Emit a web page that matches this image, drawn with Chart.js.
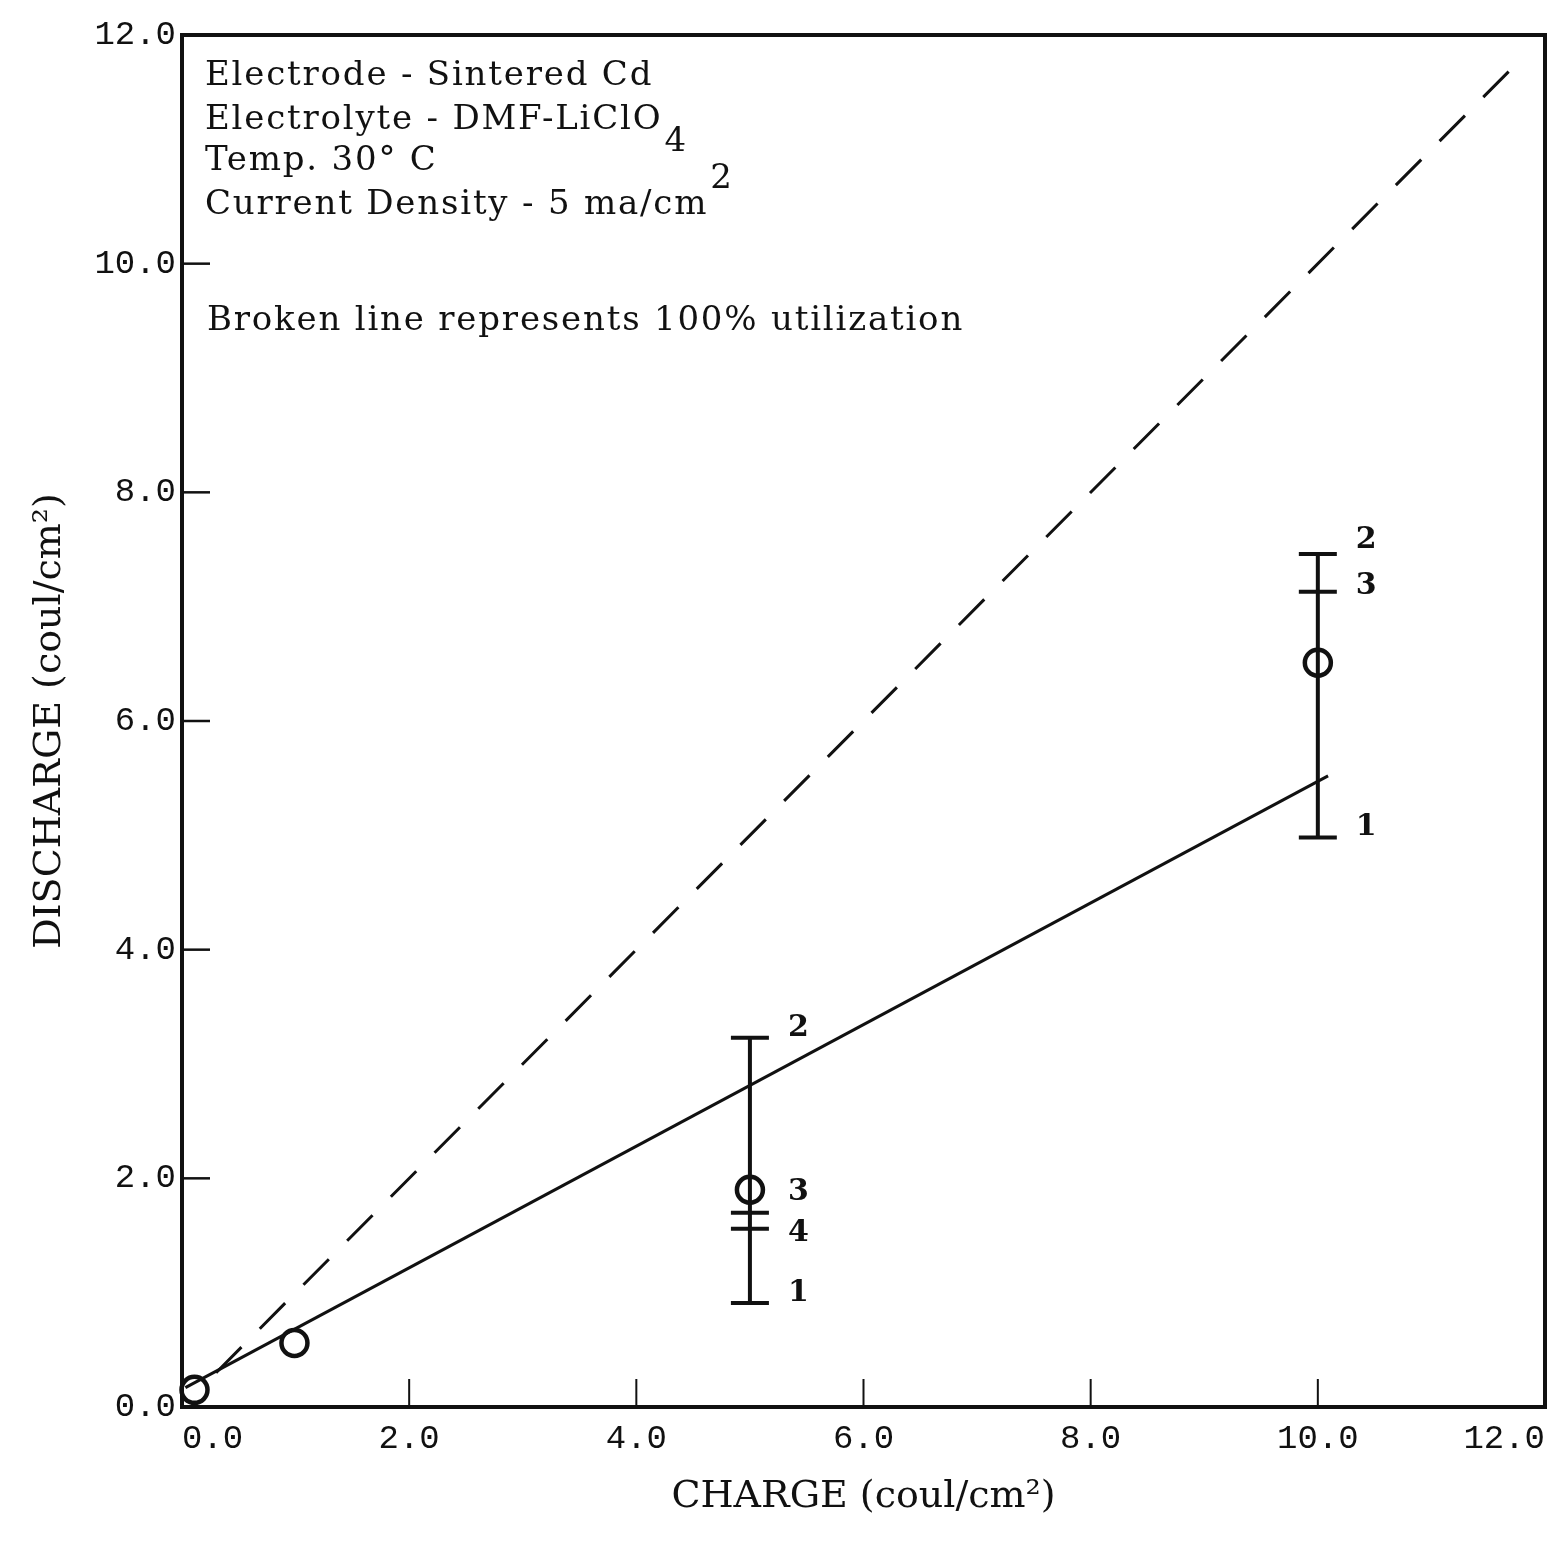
<!DOCTYPE html>
<html>
<head>
<meta charset="utf-8">
<script src="https://cdn.jsdelivr.net/npm/chart.js@4.4.0/dist/chart.umd.min.js"></script>
<style>
  html, body { margin: 0; padding: 0; background: #fff; }
</style>
</head>
<body>
<canvas id="chart" width="1556" height="1552"></canvas>
<script>
// mean discharge per charge (circles)
const meanX = [0.11, 0.99, 5.0, 10.0];
const meanY = [0.15, 0.56, 1.90, 6.51];
// individual runs (bar ends and ticks) with their run numbers
const runX = [5.0, 5.0, 5.0, 5.0, 10.0, 10.0, 10.0];
const runY = [0.91, 3.23, 1.70, 1.56, 4.98, 7.46, 7.13];
const runLabels = ['1', '2', '3', '4', '1', '2', '3'];
// fitted line and 100% utilization line
const fitX = [0.03, 10.09];
const fitY = [0.17, 5.52];
const idealX = [0.3, 11.8];
const idealY = [0.3, 11.8];
const xTicks = [0, 2, 4, 6, 8, 10, 12];
const yTicks = [0, 2, 4, 6, 8, 10, 12];
const infoLines = ['Electrode - Sintered Cd', 'Electrolyte - DMF-LiClO', 'Temp. 30\u00b0 C', 'Current Density - 5 ma/cm'];
const infoScripts = ['', '4', '', '2'];
const noteText = 'Broken line represents 100% utilization';

const ink = '#111';
const labelDy = [-10, -10, -20, 5, -10, -14, -6];

function pts(xs, ys) {
    return xs.map((x, i) => ({ x: x, y: ys[i] }));
}

// one vertical bar per charge value, spanning its runs
const barXs = [...new Set(runX)];
const barSets = barXs.map(bx => {
    const ys = runY.filter((y, i) => runX[i] === bx);
    return {
        type: 'line',
        data: [{ x: bx, y: Math.min(...ys) }, { x: bx, y: Math.max(...ys) }],
        borderColor: ink,
        borderWidth: 4,
        pointRadius: 0,
        clip: false
    };
});

const framePlugin = {
    id: 'frame',
    beforeDatasetsDraw(chart) {
        const { ctx, chartArea: a, scales } = chart;
        ctx.save();
        ctx.strokeStyle = ink;
        ctx.lineWidth = 4;
        ctx.strokeRect(a.left, a.top, a.right - a.left, a.bottom - a.top);
        // inward tick marks
        ctx.lineWidth = 2.5;
        yTicks.slice(1, -1).forEach(v => {
            const y = scales.y.getPixelForValue(v);
            ctx.beginPath();
            ctx.moveTo(a.left, y);
            ctx.lineTo(a.left + 28, y);
            ctx.stroke();
        });
        ctx.lineWidth = 2;
        xTicks.slice(1, -1).forEach(v => {
            const x = scales.x.getPixelForValue(v);
            ctx.beginPath();
            ctx.moveTo(x, a.bottom);
            ctx.lineTo(x, a.bottom - 28);
            ctx.stroke();
        });
        ctx.restore();
    },
    afterDatasetsDraw(chart) {
        const { ctx, chartArea: a } = chart;
        ctx.save();
        ctx.fillStyle = ink;
        // run numbers beside the bars
        const meta = chart.getDatasetMeta(3);
        ctx.font = 'bold 30px "DejaVu Serif"';
        ctx.textBaseline = 'middle';
        ctx.textAlign = 'left';
        meta.data.forEach((el, i) => {
            ctx.fillText(runLabels[i], el.x + 38, el.y + labelDy[i]);
        });
        // info block
        ctx.font = '34px "DejaVu Serif"';
        ctx.letterSpacing = '1.8px';
        ctx.textBaseline = 'alphabetic';
        const baselines = [85, 129, 170, 214];
        infoLines.forEach((t, i) => {
            const x0 = a.left + 23;
            ctx.fillText(t, x0, baselines[i]);
            if (infoScripts[i]) {
                const w = ctx.measureText(t).width;
                const dy = i === 1 ? 22 : -26;
                ctx.fillText(infoScripts[i], x0 + w + 2, baselines[i] + dy);
            }
        });
        ctx.fillText(noteText, a.left + 25, 330);
        ctx.restore();
    }
};

const ctx = document.getElementById('chart');
const chart = new Chart(ctx, {
    type: 'scatter',
    data: {
        datasets: [
            {
                type: 'line',
                data: pts(idealX, idealY),
                borderColor: ink,
                borderWidth: 3,
                borderDash: [36, 26],
                pointRadius: 0,
                clip: false
            },
            {
                type: 'line',
                data: pts(fitX, fitY),
                borderColor: ink,
                borderWidth: 3,
                pointRadius: 0,
                clip: false
            },
            {
                data: pts(meanX, meanY),
                pointStyle: 'circle',
                pointRadius: 13,
                borderWidth: 4.5,
                borderColor: ink,
                backgroundColor: 'rgba(0,0,0,0)',
                clip: false
            },
            {
                data: pts(runX, runY),
                pointStyle: 'line',
                pointRadius: 19,
                borderWidth: 4,
                borderColor: ink,
                clip: false
            },
            ...barSets
        ]
    },
    plugins: [framePlugin],
    options: {
        responsive: false,
        animation: false,
        events: [],
        layout: { autoPadding: false, padding: { top: 35, right: 11, left: 0, bottom: 0 } },
        plugins: {
            legend: { display: false },
            tooltip: { enabled: false }
        },
        scales: {
            x: {
                type: 'linear',
                min: 0,
                max: 12,
                afterBuildTicks: s => { s.ticks = xTicks.map(v => ({ value: v })); },
                afterFit: s => { s.height = 145; s.paddingLeft = 0; s.paddingRight = 0; },
                grid: { display: false, drawTicks: true, tickLength: 12 },
                border: { display: false },
                ticks: {
                    align: 'inner',
                    padding: 0,
                    color: ink,
                    font: { family: '"Liberation Mono"', size: 34 },
                    callback: v => v.toFixed(1)
                },
                title: {
                    display: true,
                    text: 'CHARGE (coul/cm\u00b2)',
                    color: ink,
                    font: { family: '"DejaVu Serif"', size: 38 },
                    padding: { top: 0, bottom: 32 }
                }
            },
            y: {
                type: 'linear',
                min: 0,
                max: 12,
                afterBuildTicks: s => { s.ticks = yTicks.map(v => ({ value: v })); },
                afterFit: s => { s.width = 182; },
                grid: { display: false, drawTicks: false },
                border: { display: false },
                ticks: {
                    padding: 6,
                    color: ink,
                    font: { family: '"Liberation Mono"', size: 34 },
                    callback: v => v.toFixed(1)
                },
                title: {
                    display: true,
                    text: 'DISCHARGE (coul/cm\u00b2)',
                    color: ink,
                    font: { family: '"DejaVu Serif"', size: 38 },
                    padding: { top: 27, bottom: 0 }
                }
            }
        }
    }
});
</script>
</body>
</html>
